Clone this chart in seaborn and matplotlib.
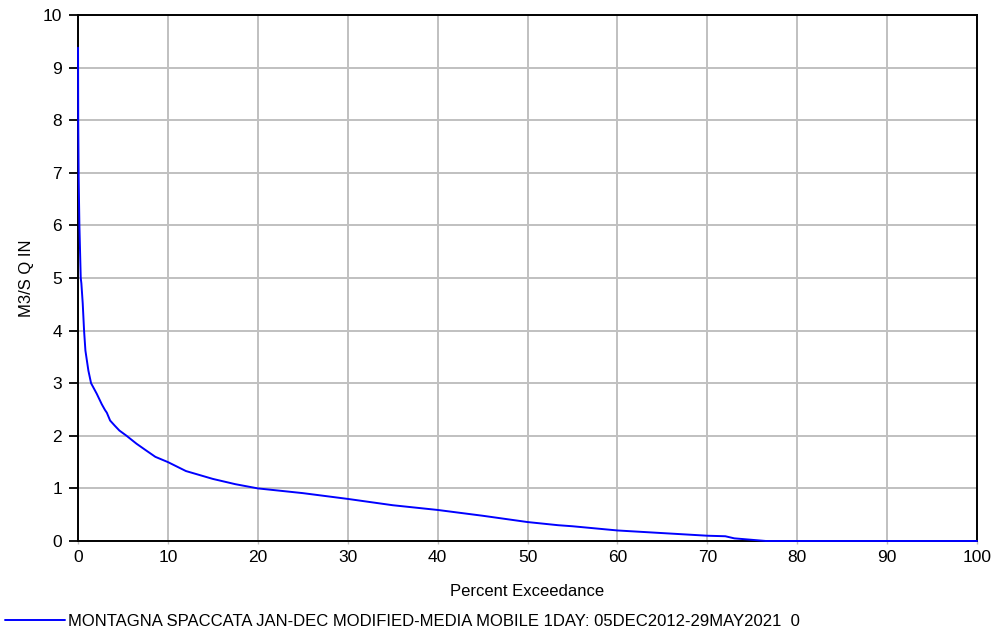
import matplotlib
matplotlib.use("Agg")
import matplotlib.pyplot as plt
import seaborn as sns
import pandas as pd

exceedance = [0, 0.02, 0.07, 0.15, 0.3, 0.37, 0.52, 0.67, 0.82, 1.15, 1.45, 2.08, 2.64, 3.0, 3.2,
              3.57, 4.1, 4.6, 5.4, 6.5, 7.5, 8.6, 10, 12, 15, 17.5, 20, 25, 30, 35, 40, 45, 50,
              53.4, 55, 60, 65, 70, 72, 73, 76.5, 80, 100]
flow = [9.38, 8.0, 6.9, 6.0, 5.0, 4.9, 4.52, 4.0, 3.62, 3.24, 3.0, 2.8, 2.6, 2.49, 2.44,
        2.29, 2.19, 2.1, 2.0, 1.85, 1.73, 1.6, 1.5, 1.33, 1.18, 1.08, 1.0, 0.91, 0.8, 0.68, 0.59, 0.48, 0.36,
        0.3, 0.28, 0.2, 0.15, 0.1, 0.09, 0.05, 0.0, 0.0, 0.0]
series_label = "MONTAGNA SPACCATA JAN-DEC MODIFIED-MEDIA MOBILE 1DAY: 05DEC2012-29MAY2021  0"
x_ticks = [0, 10, 20, 30, 40, 50, 60, 70, 80, 90, 100]
y_ticks = [0, 1, 2, 3, 4, 5, 6, 7, 8, 9, 10]

sns.set_theme(style="whitegrid")
plt.rcParams['font.family'] = ['Liberation Sans', 'DejaVu Sans']

df = pd.DataFrame({"x": exceedance, "y": flow})

fig = plt.figure(figsize=(9.98, 6.3), dpi=100)
ax = fig.add_axes([0.0782, 0.1413, 0.979 - 0.0782, 0.976 - 0.1413])
sns.lineplot(data=df, x="x", y="y", ax=ax, color="#0000ff", linewidth=1.4, sort=False,
             label=series_label, legend=False)
for ln in ax.lines:
    ln.set_zorder(5)
    ln.set_clip_on(False)

ax.set_xlim(0, 100)
ax.set_ylim(0, 10)
ax.set_xticks(x_ticks)
ax.set_yticks(y_ticks)
ax.grid(True, color="#c0c0c0", linewidth=1.4)
for s in ax.spines.values():
    s.set_color("black")
    s.set_linewidth(1.4)
ax.tick_params(axis="y", which="major", direction="out", left=True, length=6.5, width=1.3,
               color="black", labelsize=12.5, labelcolor="black", pad=5)
ax.tick_params(axis="x", which="major", direction="out", bottom=True, length=2, width=1.0,
               color="#c0c0c0", labelsize=12.5, labelcolor="black", pad=4.5)
ax.set_xlabel("Percent Exceedance", fontsize=12, color="black", labelpad=14)
ax.set_ylabel("M3/S Q IN", fontsize=12, color="black", labelpad=6)

handles, labels = ax.get_legend_handles_labels()
fig.legend(handles, labels, loc="center left", bbox_to_anchor=(5 / 998, 1 - 621 / 630),
           frameon=False, fontsize=12, handlelength=3.6, handletextpad=0.18,
           borderaxespad=0, borderpad=0, labelcolor="black")

fig.savefig("out.png", dpi=100, facecolor="white")
